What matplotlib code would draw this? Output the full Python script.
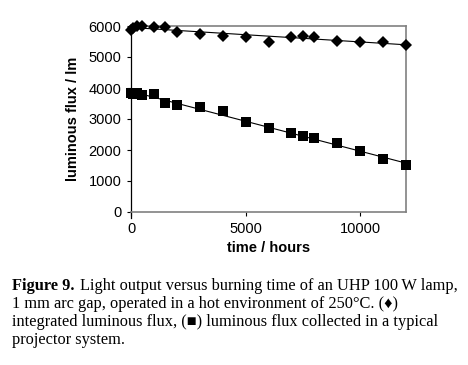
import numpy as np
import matplotlib
matplotlib.use("Agg")
import matplotlib.pyplot as plt

# Data
hours = [0, 100, 250, 500, 1000, 1500, 2000, 3000, 4000, 5000, 6000, 7000,
         7500, 8000, 9000, 10000, 11000, 12000]
integrated_flux = [5870, 5950, 6000, 6000, 5980, 5980, 5820, 5745, 5690, 5630,
                   5500, 5630, 5690, 5660, 5530, 5500, 5470, 5395]
collected_flux = [3850, 3800, 3850, 3765, 3795, 3530, 3455, 3390, 3265, 2910,
                  2700, 2550, 2445, 2390, 2220, 1965, 1720, 1505]

x_ticks = [0, 5000, 10000]
y_ticks = [0, 1000, 2000, 3000, 4000, 5000, 6000]

W, H = 468, 365
fig = plt.figure(figsize=(W / 100, H / 100), dpi=100)
ax = fig.add_axes([131 / W, 1 - 212 / H, (406 - 131) / W, (212 - 26) / H])

sans = ["Liberation Sans", "DejaVu Sans"]
serif = ["Liberation Serif", "DejaVu Serif"]

t = np.array(hours, dtype=float)
for vals, mk, ms in [(integrated_flux, "D", 6.5), (collected_flux, "s", 6.8)]:
    v = np.array(vals, dtype=float)
    coef = np.polyfit(t, v, 1)
    xx = np.array([0, 12000.0])
    ax.plot(xx, np.polyval(coef, xx), color="black", lw=0.8, zorder=2)
    ax.plot(t, v, linestyle="none", marker=mk, ms=ms, color="black",
            markeredgewidth=0, zorder=3, clip_on=False)

ax.set_xlim(0, 12000)
ax.set_ylim(0, 6000)
ax.set_xticks(x_ticks)
ax.set_yticks(y_ticks)
ax.set_xticklabels([str(v) for v in x_ticks], fontfamily=sans, fontsize=10.5)
ax.set_yticklabels([str(v) for v in y_ticks], fontfamily=sans, fontsize=10.5)
ax.tick_params(axis="both", direction="out", length=3, width=0.8, color="black", pad=4)

ax.spines["left"].set_color("black")
ax.spines["left"].set_linewidth(0.9)
ax.spines["left"].set_bounds(-180, 6000)
for s in ["top", "right", "bottom"]:
    ax.spines[s].set_color("#808080")
    ax.spines[s].set_linewidth(1.2)

ax.set_xlabel("time / hours", fontfamily=sans, fontsize=10.5, fontweight="bold", labelpad=4)
ax.set_ylabel("luminous flux / lm", fontfamily=sans, fontsize=10.5, fontweight="bold", labelpad=6)

# Caption
fs = 11.8
x0 = 12 / W
base = [290, 308, 326, 344]
t1 = fig.text(x0, 1 - base[0] / H, "Figure 9.", fontfamily=serif, fontsize=fs,
              fontweight="bold", va="baseline", ha="left")
fig.canvas.draw()
r = fig.canvas.get_renderer()
bb = t1.get_window_extent(r)
fig.text((bb.x1 + 5) / W, 1 - base[0] / H,
         "Light output versus burning time of an UHP 100\u2009W lamp,",
         fontfamily=serif, fontsize=fs, va="baseline", ha="left")
lines = ["1 mm arc gap, operated in a hot environment of 250\u00b0C. (\u2666)",
         "integrated luminous flux, (\u25a0) luminous flux collected in a typical",
         "projector system."]
for b, s in zip(base[1:], lines):
    fig.text(x0, 1 - b / H, s, fontfamily=serif, fontsize=fs, va="baseline", ha="left")

fig.savefig("out.png", dpi=100)
